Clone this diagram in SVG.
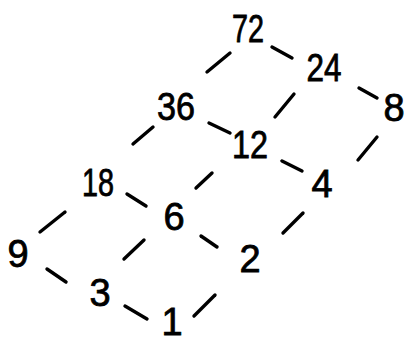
<svg xmlns="http://www.w3.org/2000/svg" width="410" height="345" viewBox="0 0 410 345">
<style>
.n text{font-family:"Liberation Sans","DejaVu Sans",sans-serif;font-size:38px;fill:#000;stroke:#000;stroke-width:0.8;text-anchor:middle;dominant-baseline:central}
#edges line{stroke:#000;stroke-width:3.4;stroke-linecap:round}
</style>
<rect width="410" height="345" fill="#fff"/>
<g id="edges">
<line x1="207" y1="72" x2="230" y2="53"/>
<line x1="272" y1="47" x2="292" y2="58"/>
<line x1="133" y1="144" x2="153" y2="127"/>
<line x1="209" y1="123" x2="230" y2="133"/>
<line x1="275" y1="117" x2="294" y2="94"/>
<line x1="359" y1="88" x2="377" y2="98"/>
<line x1="358" y1="160" x2="377" y2="137"/>
<line x1="282" y1="161" x2="302" y2="171"/>
<line x1="196" y1="188" x2="212" y2="173"/>
<line x1="40" y1="232" x2="65" y2="212"/>
<line x1="127" y1="194" x2="146" y2="206"/>
<line x1="124" y1="259" x2="144" y2="240"/>
<line x1="201" y1="236" x2="217" y2="247"/>
<line x1="283" y1="233" x2="303" y2="213"/>
<line x1="47" y1="269" x2="66" y2="282"/>
<line x1="125" y1="306" x2="147" y2="319"/>
<line x1="194" y1="316" x2="215" y2="295"/>
</g>
<g id="n72" class="n"><text x="248" y="29" textLength="32" lengthAdjust="spacingAndGlyphs">72</text></g>
<g id="n24" class="n"><text x="324" y="68" textLength="35" lengthAdjust="spacingAndGlyphs">24</text></g>
<g id="n8" class="n"><text x="394" y="108">8</text></g>
<g id="n36" class="n"><text x="176" y="107" textLength="38" lengthAdjust="spacingAndGlyphs">36</text></g>
<g id="n12" class="n"><text x="250" y="145" textLength="36" lengthAdjust="spacingAndGlyphs">12</text></g>
<g id="n4" class="n"><text x="322" y="184">4</text></g>
<g id="n18" class="n"><text x="98" y="183" textLength="32" lengthAdjust="spacingAndGlyphs">18</text></g>
<g id="n6" class="n"><text x="174" y="217">6</text></g>
<g id="n9" class="n"><text x="18" y="254">9</text></g>
<g id="n2" class="n"><text x="250" y="259">2</text></g>
<g id="n3" class="n"><text x="100" y="293">3</text></g>
<g id="n1" class="n"><text x="172" y="322">1</text></g>
</svg>
